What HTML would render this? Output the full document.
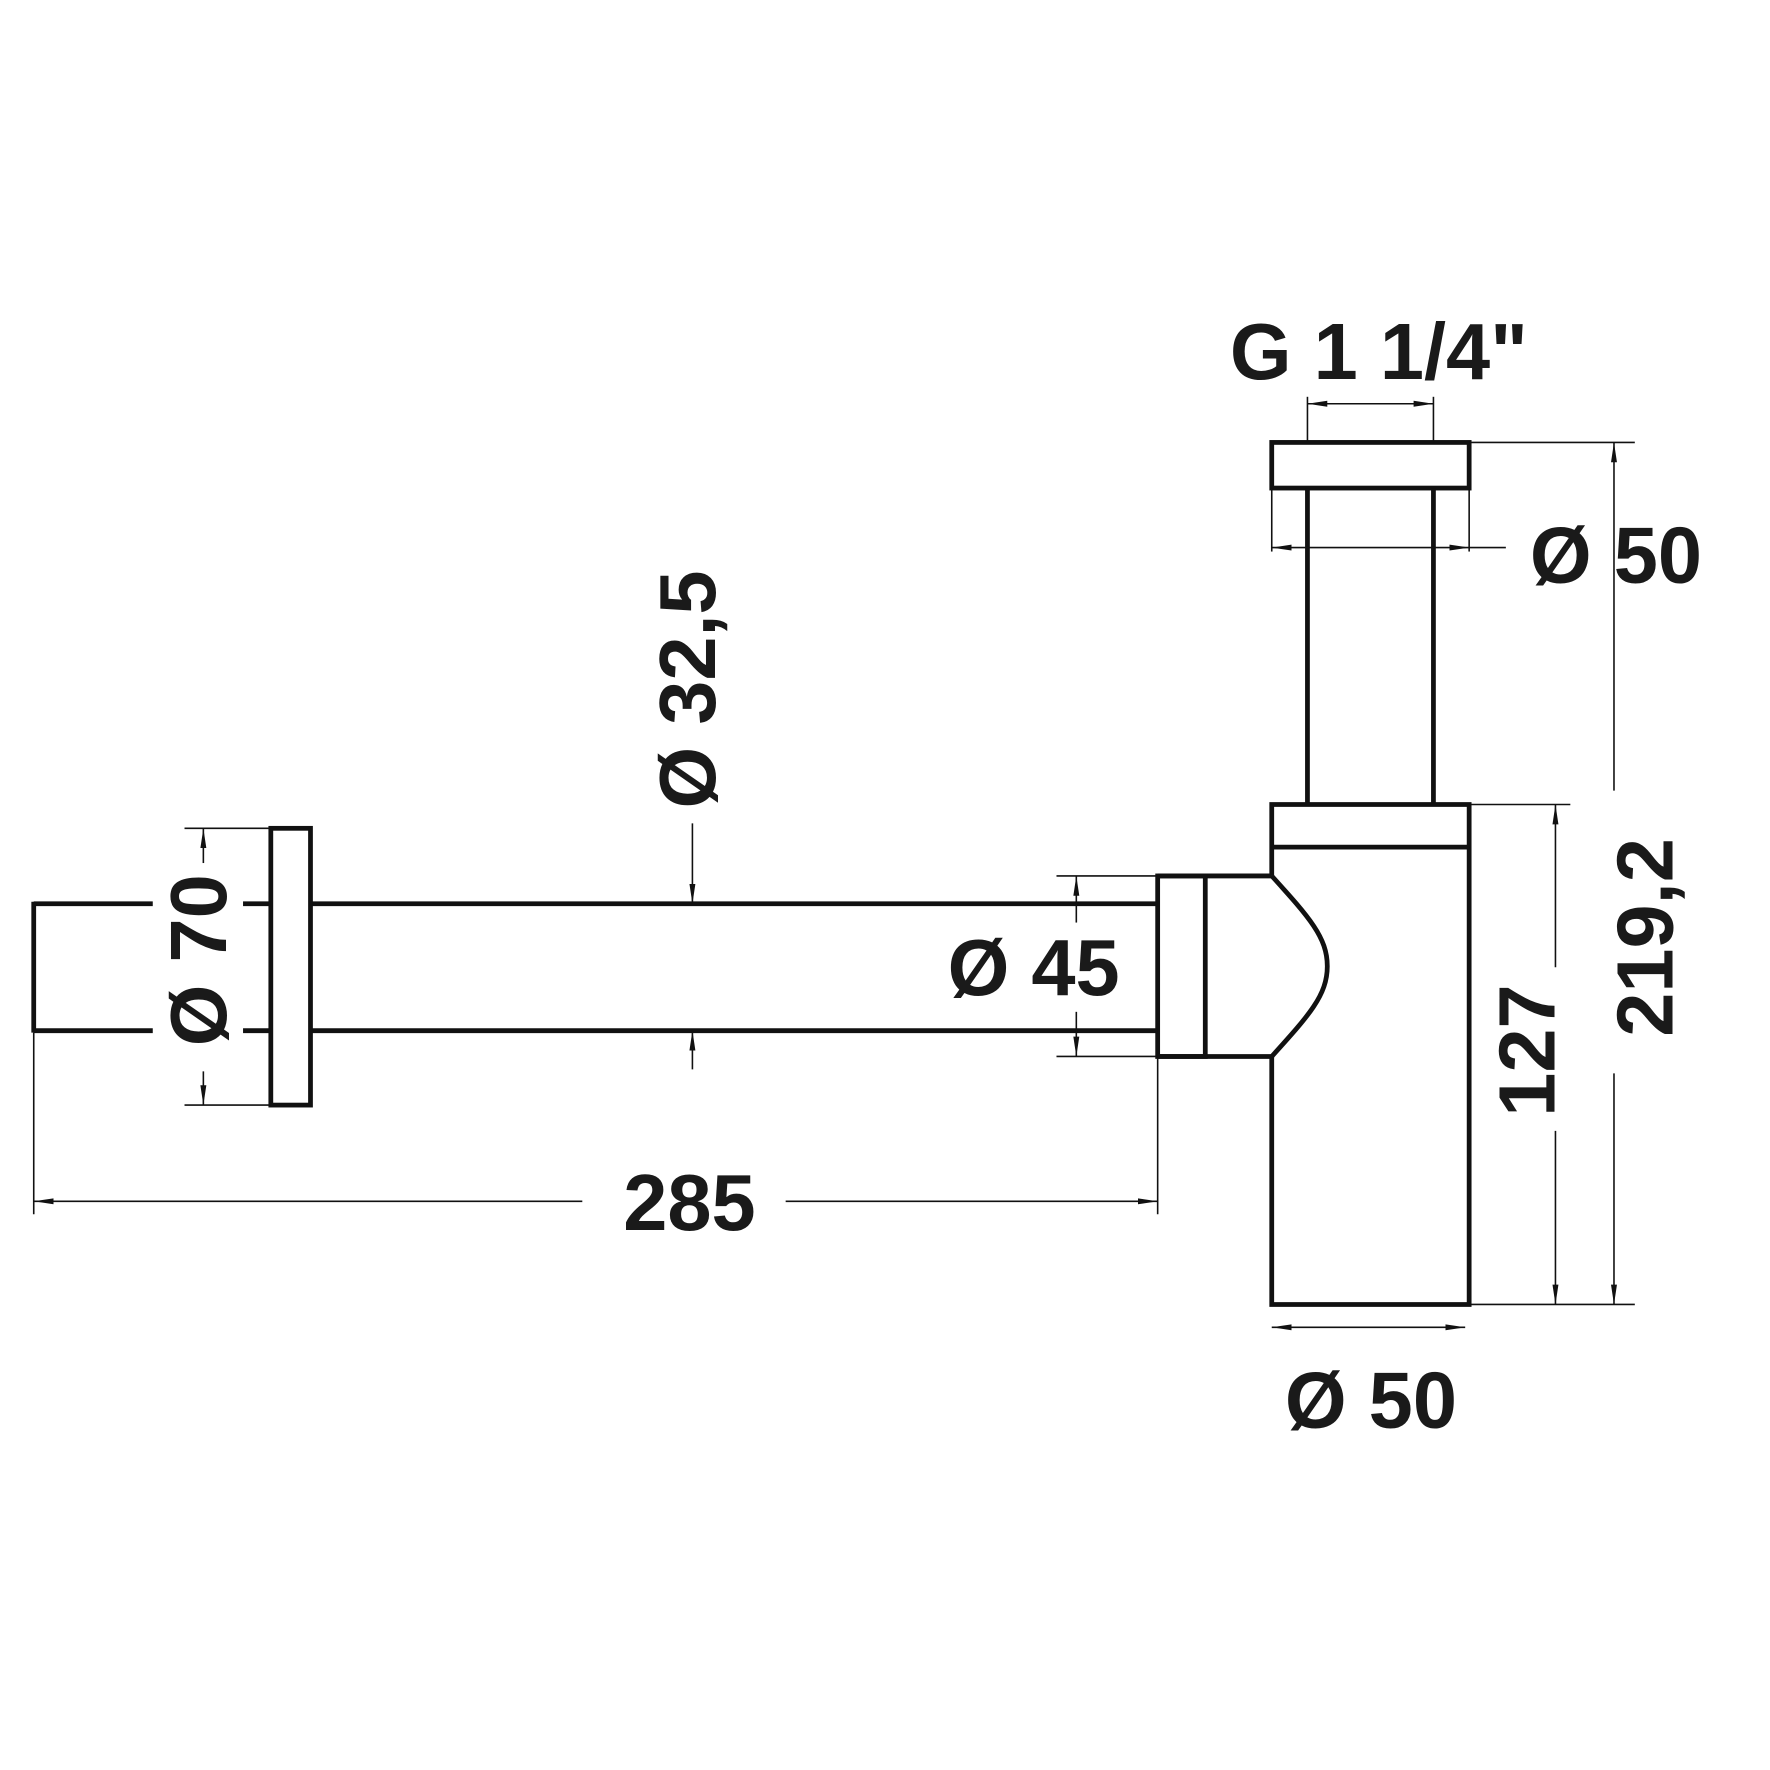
<!DOCTYPE html>
<html><head><style>html,body{margin:0;padding:0;background:#fff}svg{display:block}text{font-family:"Liberation Sans",sans-serif;font-weight:bold;fill:#1a1a1a}</style></head>
<body>
<svg width="1770" height="1770" viewBox="0 0 1770 1770" xmlns="http://www.w3.org/2000/svg">
<defs>
<marker id="a" viewBox="0 0 20 8" refX="20" refY="4" markerWidth="20" markerHeight="8" markerUnits="userSpaceOnUse" orient="auto-start-reverse"><path d="M0,1 L20,4 L0,7 z" fill="#111"/></marker>
</defs>
<g transform="scale(0.992)">
<g fill="none" stroke="#111" stroke-width="4.8">
<rect x="1282" y="446" width="199" height="46"/>
<line x1="1318" y1="492" x2="1318" y2="811"/>
<line x1="1445" y1="492" x2="1445" y2="811"/>
<path d="M1282,883 L1282,811 L1481,811 L1481,1315 L1282,1315 L1282,1065"/>
<line x1="1282" y1="854" x2="1481" y2="854"/>
<path d="M1282,883 C1320,925 1338,945 1338,974 C1338,1003 1320,1023 1282,1065"/>
<line x1="1167" y1="883" x2="1282" y2="883"/>
<line x1="1167" y1="1065" x2="1282" y2="1065"/>
<rect x="1167" y="883" width="48" height="182"/>
<line x1="313" y1="911" x2="1167" y2="911"/>
<line x1="313" y1="1039" x2="1167" y2="1039"/>
<rect x="273" y="835" width="40" height="279"/>
<line x1="34" y1="911" x2="154" y2="911"/>
<line x1="245" y1="911" x2="273" y2="911"/>
<line x1="34" y1="1039" x2="154" y2="1039"/>
<line x1="245" y1="1039" x2="273" y2="1039"/>
<line x1="34" y1="909" x2="34" y2="1041"/>
</g>
<g fill="none" stroke="#111" stroke-width="1.6">
<line x1="34" y1="1041" x2="34" y2="1224"/>
<line x1="1167" y1="1065" x2="1167" y2="1224"/>
<line x1="34" y1="1211" x2="587" y2="1211" marker-start="url(#a)"/>
<line x1="792" y1="1211" x2="1167" y2="1211" marker-end="url(#a)"/>
<line x1="186" y1="835" x2="273" y2="835"/>
<line x1="186" y1="1114" x2="273" y2="1114"/>
<line x1="205" y1="835" x2="205" y2="870" marker-start="url(#a)"/>
<line x1="205" y1="1080" x2="205" y2="1114" marker-end="url(#a)"/>
<line x1="698" y1="830" x2="698" y2="911" marker-end="url(#a)"/>
<line x1="698" y1="1039" x2="698" y2="1078" marker-start="url(#a)"/>
<line x1="1065" y1="883" x2="1167" y2="883"/>
<line x1="1065" y1="1065" x2="1167" y2="1065"/>
<line x1="1085" y1="883" x2="1085" y2="930" marker-start="url(#a)"/>
<line x1="1085" y1="1020" x2="1085" y2="1065" marker-end="url(#a)"/>
<line x1="1318" y1="400" x2="1318" y2="446"/>
<line x1="1445" y1="400" x2="1445" y2="446"/>
<line x1="1318" y1="407" x2="1445" y2="407" marker-start="url(#a)" marker-end="url(#a)"/>
<line x1="1282" y1="492" x2="1282" y2="556"/>
<line x1="1481" y1="492" x2="1481" y2="556"/>
<line x1="1282" y1="552" x2="1481" y2="552" marker-start="url(#a)" marker-end="url(#a)"/>
<line x1="1481" y1="552" x2="1518" y2="552"/>
<line x1="1481" y1="446" x2="1648" y2="446"/>
<line x1="1481" y1="1315" x2="1648" y2="1315"/>
<line x1="1627" y1="446" x2="1627" y2="797" marker-start="url(#a)"/>
<line x1="1627" y1="1082" x2="1627" y2="1315" marker-end="url(#a)"/>
<line x1="1481" y1="811" x2="1583" y2="811"/>
<line x1="1568" y1="811" x2="1568" y2="975" marker-start="url(#a)"/>
<line x1="1568" y1="1140" x2="1568" y2="1315" marker-end="url(#a)"/>
<line x1="1282" y1="1338" x2="1477" y2="1338" marker-start="url(#a)" marker-end="url(#a)"/>
</g>
<g font-size="80">
<text x="695" y="1240" text-anchor="middle">285</text>
<text x="1390" y="382" text-anchor="middle">G 1 1/4"</text>
<text x="1629" y="587" text-anchor="middle">Ø 50</text>
<text x="1042" y="1003" text-anchor="middle">Ø 45</text>
<text x="1382" y="1439" text-anchor="middle">Ø 50</text>
<text transform="translate(228,968) rotate(-90)" text-anchor="middle">Ø 70</text>
<text transform="translate(721,695) rotate(-90)" text-anchor="middle">Ø 32,5</text>
<text transform="translate(1686,945) rotate(-90)" text-anchor="middle">219,2</text>
<text transform="translate(1567,1059) rotate(-90)" text-anchor="middle">127</text>
</g>
</g>
</svg>
</body></html>
